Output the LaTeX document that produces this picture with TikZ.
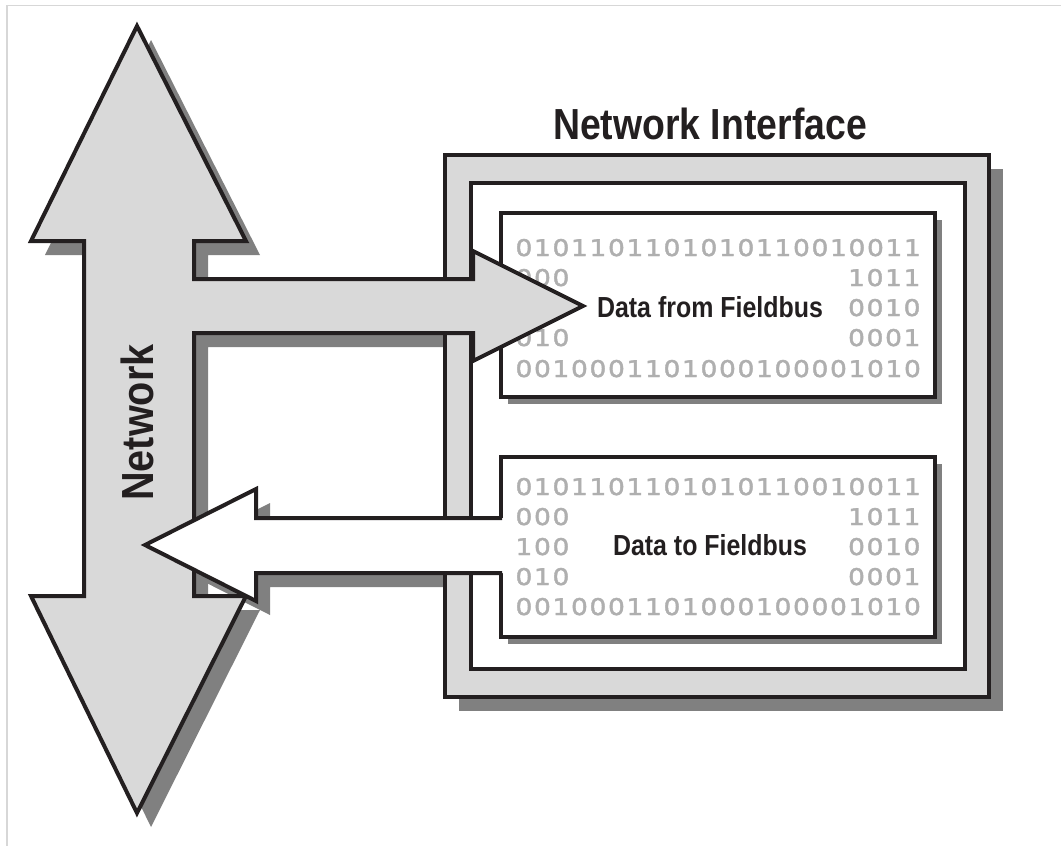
\documentclass[tikz,border=0pt]{standalone}
\usepackage{fontspec}
\usepackage{graphicx}
\newfontfamily\lsans{Liberation Sans}
\newfontfamily\dvs{DejaVu Sans}[FakeBold=1.6]
\definecolor{lg}{RGB}{217,217,217}
\definecolor{sh}{RGB}{128,128,128}
\definecolor{ol}{RGB}{35,31,32}
\definecolor{bitc}{RGB}{175,175,175}
\definecolor{edge}{RGB}{215,215,215}
\newcommand\bitcell[1]{\makebox[18.5pt][c]{\scalebox{1.15}[1]{#1}}}
\def\bitsloop#1{\ifx#1\relax\else\bitcell{#1}\expandafter\bitsloop\fi}
\newcommand\bits[1]{\bitsloop#1\relax}
\tikzset{
  outl/.style={draw=ol, line width=4pt, line join=miter, miter limit=10},
  shad/.style={fill=sh},
  bitrow/.style={inner sep=0pt, text=bitc, font=\dvs\fontsize{23}{23}\selectfont},
  lbl/.style={inner sep=0pt, text=ol, font=\lsans\bfseries\fontsize{29}{29}\selectfont},
  netpath/.style={insert path={(137,26) -- (246,241) -- (194,241) -- (194,279) -- (473,279) -- (473,251) -- (583,306) -- (473,361) -- (473,333) -- (194,333) -- (194,596) -- (246,596) -- (137,813) -- (31,596) -- (84,596) -- (84,241) -- (31,241) -- cycle}},
  tfpath/.style={insert path={(504,518) -- (256,518) -- (256,489) -- (145,545) -- (256,601) -- (256,573) -- (504,573) -- cycle}}
}
\begin{document}
\begin{tikzpicture}[x=1pt,y=-1pt]
\useasboundingbox (0,0) rectangle (1061,846);
% image border
\draw[edge, line width=1.5pt] (7,846) -- (7,5.5) -- (1061,5.5);
% shadows
\fill[shad, shift={(14,14)}, netpath];
\fill[shad, shift={(14,14)}, tfpath];
\fill[shad] (459,169) rectangle (1003,711);
% frames
\draw[outl, line width=3.5pt, fill=lg] (445,155) rectangle (989,697);
\draw[outl, fill=white] (471,183) rectangle (965,669);
% title
\node[lbl, anchor=base, font=\lsans\bfseries\fontsize{43.5}{43.5}\selectfont] (title) at (710,139) {\scalebox{0.86}[1]{Network Interface}};
% data boxes
\fill[shad] (508,220) rectangle (942,404);
\draw[outl, fill=white] (501,213) rectangle (935,397);
\fill[shad] (508,464) rectangle (942,644);
\draw[outl, fill=white] (501,457) rectangle (935,637);
% box 1 bits
\node[bitrow, anchor=base west] (b1r1) at (514.5,256) {\bits{0101101101010110010011}};
\node[bitrow, anchor=base west] (b1r2l) at (514.5,286) {\bits{000}};
\node[bitrow, anchor=base east] (b1r2r) at (921.5,286) {\bits{1011}};
\node[bitrow, anchor=base east] (b1r3r) at (921.5,316) {\bits{0010}};
\node[bitrow, anchor=base west] (b1r4l) at (514.5,346) {\bits{010}};
\node[bitrow, anchor=base east] (b1r4r) at (921.5,346) {\bits{0001}};
\node[bitrow, anchor=base west] (b1r5) at (514.5,377) {\bits{0010001101000100001010}};
\node[lbl, anchor=base] (from) at (710,317) {\scalebox{0.86}[1]{Data from Fieldbus}};
% box 2 bits
\node[bitrow, anchor=base west] (b2r1) at (514.5,495) {\bits{0101101101010110010011}};
\node[bitrow, anchor=base west] (b2r2l) at (514.5,525) {\bits{000}};
\node[bitrow, anchor=base east] (b2r2r) at (921.5,525) {\bits{1011}};
\node[bitrow, anchor=base west] (b2r3l) at (514.5,555) {\bits{100}};
\node[bitrow, anchor=base east] (b2r3r) at (921.5,555) {\bits{0010}};
\node[bitrow, anchor=base west] (b2r4l) at (514.5,585) {\bits{010}};
\node[bitrow, anchor=base east] (b2r4r) at (921.5,585) {\bits{0001}};
\node[bitrow, anchor=base west] (b2r5) at (514.5,615) {\bits{0010001101000100001010}};
\node[lbl, anchor=base] (to) at (710,555) {\scalebox{0.86}[1]{Data to Fieldbus}};
% network arrow
\draw[outl, fill=lg, netpath];
\node[lbl, rotate=90, font=\lsans\bfseries\fontsize{45}{45}\selectfont] (net) at (137.5,422.5) {\scalebox{0.88}[1]{Network}};
% data to fieldbus arrow
\fill[white, tfpath];
\draw[outl] (502,518) -- (256,518) -- (256,489) -- (145,545) -- (256,601) -- (256,573) -- (502,573);
\end{tikzpicture}
\end{document}
